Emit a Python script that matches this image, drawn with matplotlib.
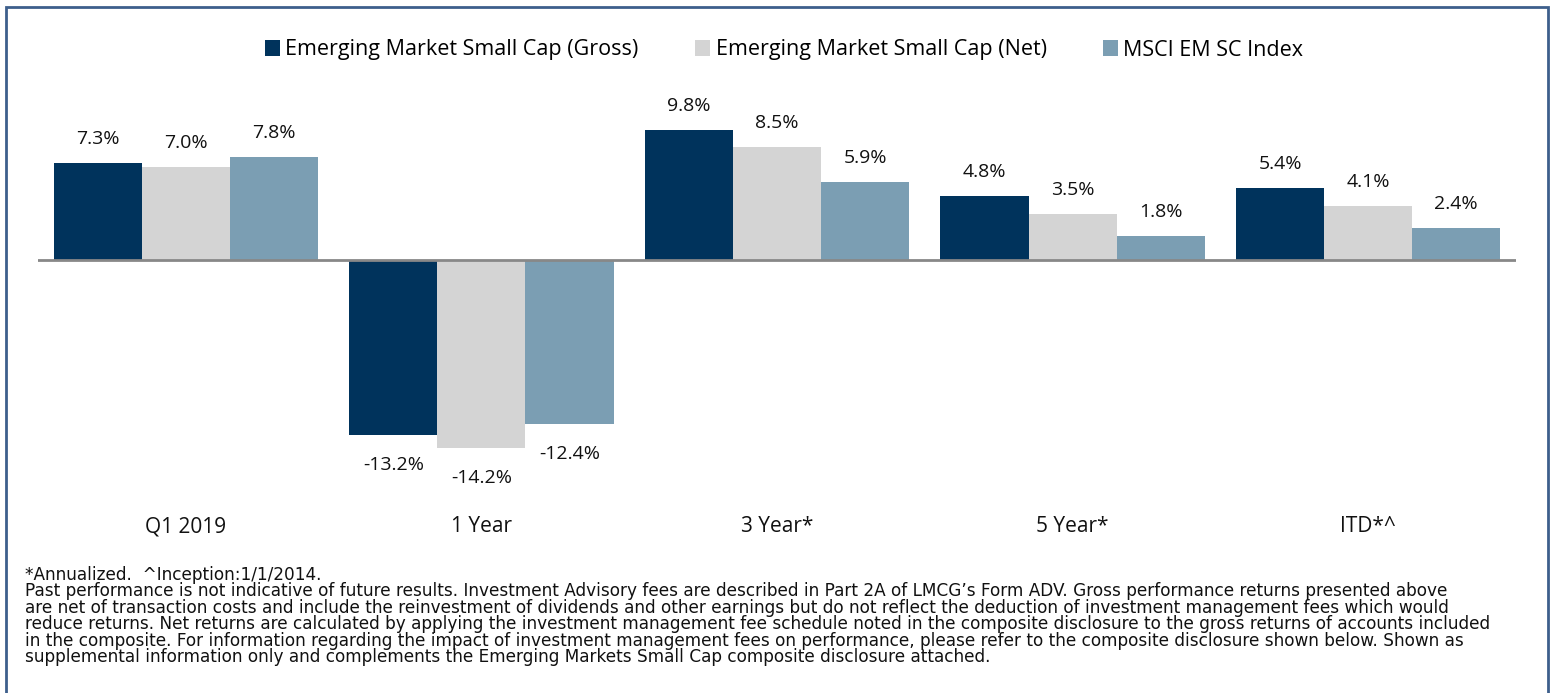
import matplotlib
matplotlib.use("Agg")
import matplotlib.pyplot as plt
import numpy as np
from matplotlib.patches import Rectangle

categories = ["Q1 2019", "1 Year", "3 Year*", "5 Year*", "ITD*^"]
series_names = ["Emerging Market Small Cap (Gross)", "Emerging Market Small Cap (Net)", "MSCI EM SC Index"]
gross = [7.3, -13.2, 9.8, 4.8, 5.4]
net = [7.0, -14.2, 8.5, 3.5, 4.1]
index = [7.8, -12.4, 5.9, 1.8, 2.4]
colors = ["#00335C", "#D4D4D4", "#7B9EB3"]

footnote_lines = [
    "*Annualized.  ^Inception:1/1/2014.",
    "Past performance is not indicative of future results. Investment Advisory fees are described in Part 2A of LMCG\u2019s Form ADV. Gross performance returns presented above",
    "are net of transaction costs and include the reinvestment of dividends and other earnings but do not reflect the deduction of investment management fees which would",
    "reduce returns. Net returns are calculated by applying the investment management fee schedule noted in the composite disclosure to the gross returns of accounts included",
    "in the composite. For information regarding the impact of investment management fees on performance, please refer to the composite disclosure shown below. Shown as",
    "supplemental information only and complements the Emerging Markets Small Cap composite disclosure attached.",
]

plt.rcParams['font.family'] = ['Open Sans', 'DejaVu Sans']

W, H = 1557, 693
fig = plt.figure(figsize=(W/100, H/100), dpi=100)

ax_l, ax_r = 38, 1516
ax_t, ax_b = 90, 500
ax = fig.add_axes([ax_l/W, 1-ax_b/H, (ax_r-ax_l)/W, (ax_b-ax_t)/H])
scale = 13.25
ax.set_xlim(-0.5, 4.5)
ax.set_ylim(-(ax_b-260)/scale, (260-ax_t)/scale)

x = np.arange(len(categories))
bw = 0.298
all_series = [gross, net, index]
for i, (vals, c, name) in enumerate(zip(all_series, colors, series_names)):
    pos = x + (i-1)*bw
    ax.bar(pos, vals, width=bw, color=c, label=name, zorder=2)
    for p, v in zip(pos, vals):
        if v >= 0:
            ax.text(p, v + 26/scale, f"{v:.1f}%", ha='center', va='center_baseline', fontsize=14, color='#111111')
        else:
            ax.text(p, v - 28/scale, f"{v:.1f}%", ha='center', va='center_baseline', fontsize=14, color='#111111')

ax.axhline(0, color='#888888', lw=2, zorder=3)
for s in ax.spines.values():
    s.set_visible(False)
ax.set_xticks([])
ax.set_yticks([])

for xi, c in zip(x, categories):
    ax.text(xi, -(527-260)/scale, c, ha='center', va='center', fontsize=15, color='#111111')

leg = fig.legend(loc='center', bbox_to_anchor=(784/W, 1-50/H), ncol=3, frameon=False,
                 fontsize=15.5, handlelength=0.72, handleheight=0.72, handletextpad=0.25,
                 columnspacing=2.6, borderpad=0, borderaxespad=0)

for k, line in enumerate(footnote_lines):
    fig.text(25/W, 1-(575+16.4*k)/H, line, ha='left', va='center', fontsize=12.2,
             color='#111111', family=['DejaVu Sans'])

fig.patches.append(Rectangle((6/W, -0.05), (1548-6)/W, 1-7/H+0.05, transform=fig.transFigure,
                             fill=False, edgecolor='#3D5F8C', lw=2))

fig.savefig("out.png", dpi=100)
